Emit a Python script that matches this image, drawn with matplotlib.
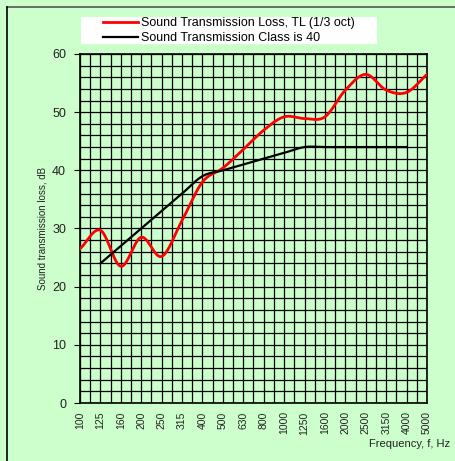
import numpy as np
import matplotlib
matplotlib.use('Agg')
import matplotlib.pyplot as plt
from matplotlib.lines import Line2D
from matplotlib.patches import Rectangle

plt.rcParams['font.family'] = ['Liberation Sans', 'DejaVu Sans']

freqs = ['100', '125', '160', '200', '250', '315', '400', '500', '630', '800',
         '1000', '1250', '1600', '2000', '2500', '3150', '4000', '5000']
tl_values = [26.5, 29.7, 23.5, 28.5, 25.2, 31.4, 38.0, 40.4, 43.6, 46.9,
             49.2, 48.9, 49.2, 53.8, 56.5, 53.8, 53.4, 56.5]
stc_freqs = freqs[1:17]
stc_values = [24, 27, 30, 33, 36, 39, 40, 41, 42, 43, 44, 44, 44, 44, 44, 44]

bg = '#ccffcc'
W, H = 456, 461


def smooth(x, y, n=20):
    # catmull-rom curve through the points, like a "smoothed line" in a spreadsheet
    x = np.asarray(x, float)
    y = np.asarray(y, float)
    px = np.concatenate([[2 * x[0] - x[1]], x, [2 * x[-1] - x[-2]]])
    py = np.concatenate([[2 * y[0] - y[1]], y, [2 * y[-1] - y[-2]]])
    xs, ys = [], []
    t = np.linspace(0, 1, n, endpoint=False)
    for i in range(1, len(px) - 2):
        for p, out in ((px, xs), (py, ys)):
            p0, p1, p2, p3 = p[i - 1], p[i], p[i + 1], p[i + 2]
            out.extend(0.5 * (2 * p1 + (-p0 + p2) * t
                              + (2 * p0 - 5 * p1 + 4 * p2 - p3) * t ** 2
                              + (-p0 + 3 * p1 - 3 * p2 + p3) * t ** 3))
    xs.append(x[-1])
    ys.append(y[-1])
    return np.array(xs), np.array(ys)


fig = plt.figure(figsize=(W / 100, H / 100), dpi=100, facecolor=bg)
ax = fig.add_axes([80 / W, 58 / H, 347 / W, 349 / H], facecolor=bg)

x_tl = np.arange(len(freqs))
x_stc = np.array([freqs.index(f) for f in stc_freqs])

sx, sy = smooth(x_tl, tl_values)
ax.plot(sx, sy, color='red', lw=2, label='Sound Transmission Loss, TL (1/3 oct)', zorder=3)
cx, cy = smooth(x_stc, stc_values)
ax.plot(cx, cy, color='black', lw=1.6, label='Sound Transmission Class is 40', zorder=3)

ax.set_xlim(0, len(freqs) - 1)
ax.set_ylim(0, 60)
ax.set_xticks(x_tl)
ax.set_xticklabels(freqs, rotation=90, fontsize=7.5, color='#222222')
ax.set_xticks(np.arange(0.5, len(freqs) - 1, 1), minor=True)
ax.set_yticks(np.arange(0, 61, 10))
ax.set_yticklabels([str(v) for v in range(0, 61, 10)], fontsize=9, color='#222222')
ax.set_yticks(np.arange(0, 61, 2), minor=True)
ax.tick_params(axis='x', which='both', length=0, pad=6)
ax.tick_params(axis='y', which='major', length=4, width=0.8, pad=6)
ax.tick_params(axis='y', which='minor', length=0)
ax.grid(True, which='both', color='black', lw=0.9)
ax.set_axisbelow(True)
for s in ax.spines.values():
    s.set_linewidth(1.2)

ax.set_ylabel('Sound transmission loss, dB', fontsize=7, color='#222222', labelpad=3)
fig.text(450 / W, 1 - 444 / H, 'Frequency, f, Hz', ha='right', va='center',
         fontsize=8, color='#222222')

# white legend box above the plot
fig.add_artist(Rectangle((81 / W, 1 - 44 / H), 296 / W, 27 / H,
                         transform=fig.transFigure, facecolor='white',
                         edgecolor='none', zorder=1))
leg = fig.legend(loc='center', bbox_to_anchor=(229 / W, 1 - 30.5 / H),
                 fontsize=9, frameon=False, handlelength=2.8,
                 handletextpad=0.3, borderpad=0, labelspacing=0.25)
leg.set_zorder(2)

# outer frame of the chart area
fig.add_artist(Line2D([7 / W, 1], [1 - 7 / H, 1 - 7 / H], color='#555555', lw=1.2))
fig.add_artist(Line2D([7 / W, 7 / W], [0, 1 - 7 / H], color='black', lw=1.2))

fig.savefig('out.png', dpi=100, facecolor=bg)
